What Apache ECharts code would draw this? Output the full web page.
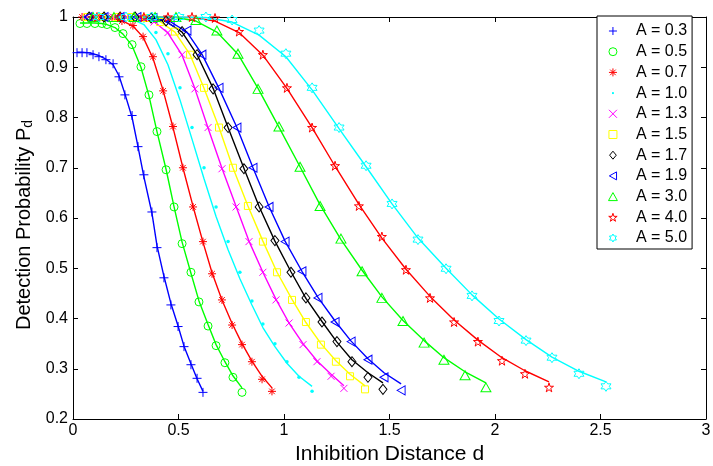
<!DOCTYPE html>
<html>
<head>
<meta charset="utf-8">
<script src="https://cdn.jsdelivr.net/npm/echarts@6/dist/echarts.min.js"></script>
<style>html,body{margin:0;padding:0;background:#fff;}#c{width:713px;height:466px;}</style>
</head>
<body>
<div id="c"></div>
<script>
const seriesNames = ['A = 0.3','A = 0.5','A = 0.7','A = 1.0','A = 1.3','A = 1.5','A = 1.7','A = 1.9','A = 3.0','A = 4.0','A = 5.0'];
const seriesColors = ['#0000ff','#00ff00','#ff0000','#00ffff','#ff00ff','#ffff00','#000000','#0000ff','#00ff00','#ff0000','#00ffff'];

const xTicks = ['0','0.5','1','1.5','2','2.5','3'];

// A = 0.3
const x03 = [0.019,0.043,0.066,0.095,0.123,0.156,0.190,0.218,0.246,0.280,0.308,0.336,0.374,0.398,0.431,0.464,0.498,0.526,0.559,0.588,0.616];
const m03 = [0.929,0.929,0.929,0.925,0.921,0.915,0.907,0.881,0.845,0.804,0.742,0.686,0.612,0.541,0.481,0.427,0.384,0.344,0.308,0.281,0.253];
const l03 = [0.930,0.930,0.929,0.927,0.923,0.916,0.905,0.883,0.847,0.800,0.742,0.682,0.610,0.545,0.484,0.430,0.385,0.345,0.310,0.280,0.255];
// A = 0.5
const x05 = [0.033,0.066,0.104,0.137,0.161,0.199,0.237,0.280,0.322,0.360,0.398,0.441,0.479,0.517,0.559,0.597,0.640,0.678,0.720,0.758,0.801];
const m05 = [0.987,0.987,0.987,0.987,0.985,0.979,0.967,0.945,0.901,0.845,0.772,0.696,0.622,0.549,0.492,0.433,0.385,0.346,0.312,0.283,0.253];
const l05 = [0.988,0.988,0.988,0.987,0.985,0.979,0.966,0.943,0.900,0.843,0.772,0.697,0.622,0.552,0.490,0.435,0.388,0.348,0.314,0.286,0.262];
// A = 0.7
const x07 = [0.043,0.090,0.137,0.185,0.232,0.284,0.332,0.379,0.427,0.474,0.521,0.569,0.616,0.659,0.706,0.754,0.801,0.848,0.896,0.943];
const m07 = [1.000,1.000,1.000,0.998,0.992,0.983,0.961,0.921,0.853,0.782,0.700,0.622,0.553,0.489,0.437,0.387,0.348,0.314,0.279,0.255];
const l07 = [1.000,1.000,0.999,0.997,0.993,0.982,0.960,0.918,0.854,0.780,0.700,0.623,0.552,0.491,0.437,0.390,0.350,0.315,0.285,0.262];
// A = 1.0
const x10 = [0.052,0.109,0.166,0.223,0.280,0.336,0.393,0.450,0.507,0.564,0.621,0.678,0.735,0.791,0.848,0.900,0.957,1.014,1.071,1.133];
const m10 = [1.000,1.000,1.000,1.000,0.998,0.992,0.969,0.927,0.859,0.780,0.700,0.622,0.553,0.492,0.435,0.389,0.350,0.314,0.283,0.255];
const l10 = [1.000,1.000,1.000,0.999,0.996,0.985,0.955,0.905,0.835,0.757,0.678,0.603,0.537,0.479,0.427,0.382,0.344,0.311,0.285,0.265];
// A = 1.3
const x13 = [0.062,0.128,0.190,0.256,0.322,0.384,0.450,0.517,0.578,0.640,0.706,0.773,0.834,0.900,0.962,1.024,1.090,1.156,1.223,1.284];
const m13 = [1.000,1.000,1.000,1.000,0.998,0.990,0.969,0.925,0.857,0.780,0.698,0.622,0.553,0.492,0.437,0.391,0.348,0.314,0.285,0.261];
const l13 = [1.000,1.000,1.000,1.000,0.998,0.991,0.968,0.924,0.857,0.779,0.699,0.623,0.554,0.492,0.438,0.391,0.350,0.316,0.289,0.266];
// A = 1.5
const x15 = [0.066,0.137,0.209,0.275,0.346,0.412,0.483,0.555,0.621,0.692,0.758,0.829,0.900,0.967,1.038,1.104,1.175,1.246,1.313,1.384];
const m15 = [1.000,1.000,1.000,1.000,0.998,0.990,0.971,0.925,0.859,0.780,0.700,0.624,0.553,0.492,0.437,0.393,0.348,0.314,0.285,0.259];
const l15 = [1.000,1.000,1.000,1.000,0.998,0.991,0.970,0.925,0.858,0.780,0.700,0.624,0.554,0.492,0.438,0.392,0.350,0.316,0.289,0.266];
// A = 1.7
const x17 = [0.076,0.147,0.223,0.294,0.370,0.441,0.517,0.588,0.664,0.735,0.810,0.882,0.957,1.033,1.104,1.180,1.251,1.322,1.398,1.469];
const m17 = [1.000,1.000,1.000,1.000,0.998,0.992,0.971,0.925,0.857,0.780,0.698,0.622,0.555,0.492,0.441,0.393,0.354,0.314,0.283,0.259];
const l17 = [1.000,1.000,1.000,1.000,0.998,0.991,0.970,0.925,0.858,0.780,0.699,0.623,0.554,0.493,0.440,0.394,0.353,0.318,0.292,0.272];
// A = 1.9
const x19 = [0.071,0.147,0.223,0.303,0.379,0.460,0.540,0.611,0.692,0.777,0.853,0.929,1.005,1.085,1.161,1.242,1.318,1.398,1.474,1.555];
const m19 = [1.000,1.000,1.000,1.000,0.998,0.990,0.973,0.925,0.859,0.780,0.700,0.622,0.553,0.494,0.441,0.393,0.354,0.318,0.283,0.257];
const l19 = [1.000,1.000,1.000,1.000,0.998,0.991,0.970,0.926,0.858,0.780,0.700,0.623,0.554,0.494,0.442,0.395,0.355,0.320,0.292,0.270];
// A = 3.0
const x30 = [0.095,0.194,0.289,0.389,0.488,0.583,0.682,0.782,0.877,0.976,1.076,1.171,1.270,1.370,1.464,1.564,1.664,1.758,1.858,1.957];
const m30 = [1.000,1.000,1.000,1.000,1.000,0.994,0.973,0.927,0.857,0.782,0.702,0.624,0.559,0.494,0.441,0.395,0.352,0.318,0.287,0.263];
const l30 = [1.000,1.000,1.000,1.000,0.999,0.992,0.970,0.926,0.858,0.781,0.702,0.626,0.557,0.496,0.443,0.396,0.356,0.322,0.294,0.272];
// A = 4.0
const x40 = [0.114,0.223,0.336,0.450,0.564,0.673,0.787,0.900,1.014,1.133,1.242,1.355,1.464,1.578,1.692,1.806,1.919,2.033,2.142,2.256];
const m40 = [1.000,1.000,1.000,1.000,1.000,0.998,0.971,0.925,0.859,0.780,0.704,0.624,0.563,0.497,0.441,0.393,0.354,0.316,0.290,0.263];
const l40 = [1.000,1.000,1.000,1.000,0.999,0.992,0.969,0.924,0.858,0.780,0.703,0.627,0.560,0.498,0.444,0.397,0.357,0.322,0.296,0.274];
// A = 5.0
const x50 = [0.123,0.251,0.374,0.502,0.630,0.754,0.882,1.009,1.133,1.261,1.389,1.512,1.635,1.768,1.891,2.019,2.147,2.270,2.398,2.526];
const m50 = [1.000,1.000,1.000,1.000,1.000,0.994,0.973,0.927,0.859,0.780,0.704,0.628,0.557,0.499,0.445,0.395,0.356,0.322,0.290,0.265];
const l50 = [1.000,1.000,1.000,1.000,0.999,0.990,0.964,0.921,0.855,0.778,0.702,0.628,0.560,0.500,0.447,0.399,0.358,0.323,0.295,0.274];

const xs = [x03,x05,x07,x10,x13,x15,x17,x19,x30,x40,x50];
const ms = [m03,m05,m07,m10,m13,m15,m17,m19,m30,m40,m50];
const ls = [l03,l05,l07,l10,l13,l15,l17,l19,l30,l40,l50];

const SYM = {
  plus: 'path://M5,0L5,10M0,5L10,5',
  circle: 'circle',
  star: 'path://M5,0L5,10M0,5L10,5M1.5,1.5L8.5,8.5M1.5,8.5L8.5,1.5',
  dot: 'circle',
  cross: 'path://M0,0L10,10M0,10L10,0',
  square: 'path://M0,0L10,0L10,10L0,10Z',
  diamond: 'path://M5,0L10,6L5,12L0,6Z',
  left: 'path://M0,5L9,0L9,10Z',
  up: 'path://M5,0L10,9L0,9Z',
  penta: 'path://M5,0L6.12,3.45L9.76,3.45L6.82,5.59L7.94,9.05L5,6.91L2.06,9.05L3.18,5.59L0.24,3.45L3.88,3.45Z',
  hexa: 'path://M5,0L6.44,2.5L9.33,2.5L7.89,5L9.33,7.5L6.44,7.5L5,10L3.56,7.5L0.67,7.5L2.11,5L0.67,2.5L3.56,2.5Z'
};
const symKeys = ['plus','circle','star','dot','cross','square','diamond','left','up','penta','hexa'];
const symSizes = [9,8,8,3.5,7,7,[8,10],[8,9],[10,9],9,10];
const legendIcons = [SYM.plus, 'circle', SYM.star, 'path://M0,0M10,10M3.8,3.8L6.2,3.8L6.2,6.2L3.8,6.2Z', SYM.cross, SYM.square, SYM.diamond, SYM.left, SYM.up, SYM.penta, SYM.hexa];

const FONT = "'Liberation Sans', Arial, sans-serif";
const series = [];
seriesNames.forEach((nm, i) => {
  series.push({
    type: 'line', name: nm + ' fit', silent: true, symbol: 'none', z: 2,
    data: xs[i].map((x, j) => [x, ls[i][j]]),
    lineStyle: { color: seriesColors[i], width: 1.4 },
    itemStyle: { color: seriesColors[i] }, animation: false
  });
});
seriesNames.forEach((nm, i) => {
  const isDot = symKeys[i] === 'dot';
  series.push({
    type: 'scatter', name: nm, z: 3, clip: false, symbol: SYM[symKeys[i]],
    symbolSize: symSizes[i], symbolKeepAspect: false,
    data: xs[i].map((x, j) => [x, ms[i][j]]),
    itemStyle: isDot ? { color: seriesColors[i], borderWidth: 0, opacity: 1 }
                     : { color: 'rgba(255,255,255,0)', borderColor: seriesColors[i], borderWidth: 1, opacity: 1 },
    animation: false
  });
});

const chart = echarts.init(document.getElementById('c'), null, { renderer: 'canvas' });
chart.setOption({
  backgroundColor: '#ffffff',
  animation: false,
  grid: { left: 73, right: 7, top: 17, bottom: 47, containLabel: false, outerBoundsMode: 'none' },
  legend: {
    orient: 'vertical', left: 597, top: 16,
    data: seriesNames.map((n, i) => ({ name: n, icon: legendIcons[i] })),
    itemWidth: 36, itemHeight: 8, itemGap: 4.7,
    padding: [7, 5, 3, 11],
    backgroundColor: '#ffffff', borderColor: '#000000', borderWidth: 1, borderRadius: 0,
    selectedMode: false,
    itemStyle: { borderWidth: 1 },
    textStyle: { fontFamily: FONT, fontSize: 16, color: '#000', lineHeight: 16 }
  },
  xAxis: [
    {
      type: 'value', min: 0, max: 3, interval: 0.5, position: 'bottom',
      name: 'Inhibition Distance d', nameLocation: 'middle', nameGap: 17,
      nameTextStyle: { fontFamily: FONT, fontSize: 21, color: '#000' },
      axisLine: { show: true, onZero: false, lineStyle: { color: '#000', width: 1 } },
      axisTick: { show: true, inside: true, length: 5, lineStyle: { color: '#000' } },
      axisLabel: { fontFamily: FONT, fontSize: 16, color: '#000', margin: 4,
        formatter: (v) => { const k = Math.round(v / 0.5); return xTicks[k] !== undefined ? xTicks[k] : ''; } },
      splitLine: { show: false }
    },
    {
      type: 'value', min: 0, max: 3, interval: 0.5, position: 'top',
      axisLine: { show: true, onZero: false, lineStyle: { color: '#000', width: 1 } },
      axisTick: { show: true, inside: true, length: 5, lineStyle: { color: '#000' } },
      axisLabel: { show: false }, splitLine: { show: false }
    }
  ],
  yAxis: [
    {
      type: 'value', min: 0.2, max: 1, interval: 0.1, position: 'left',
      name: '{a|Detection Probability P}{b|d}', nameLocation: 'middle', nameGap: 38,
      nameTextStyle: { fontFamily: FONT, color: '#000', padding: [0, 14, 0, 0],
        rich: {
          a: { fontFamily: FONT, fontSize: 20, lineHeight: 20, verticalAlign: 'top', color: '#000' },
          b: { fontFamily: FONT, fontSize: 14, lineHeight: 14, verticalAlign: 'bottom', padding: [10, 0, 0, 0], color: '#000' }
        } },
      axisLine: { show: true, onZero: false, lineStyle: { color: '#000', width: 1 } },
      axisTick: { show: true, inside: true, length: 5, lineStyle: { color: '#000' } },
      axisLabel: { fontFamily: FONT, fontSize: 16, color: '#000', margin: 5,
        formatter: (v) => String(Math.round(v * 10) / 10) },
      splitLine: { show: false }
    },
    {
      type: 'value', min: 0.2, max: 1, interval: 0.1, position: 'right',
      axisLine: { show: true, onZero: false, lineStyle: { color: '#000', width: 1 } },
      axisTick: { show: true, inside: true, length: 5, lineStyle: { color: '#000' } },
      axisLabel: { show: false }, splitLine: { show: false }
    }
  ],
  series: series
});
</script>
</body>
</html>
